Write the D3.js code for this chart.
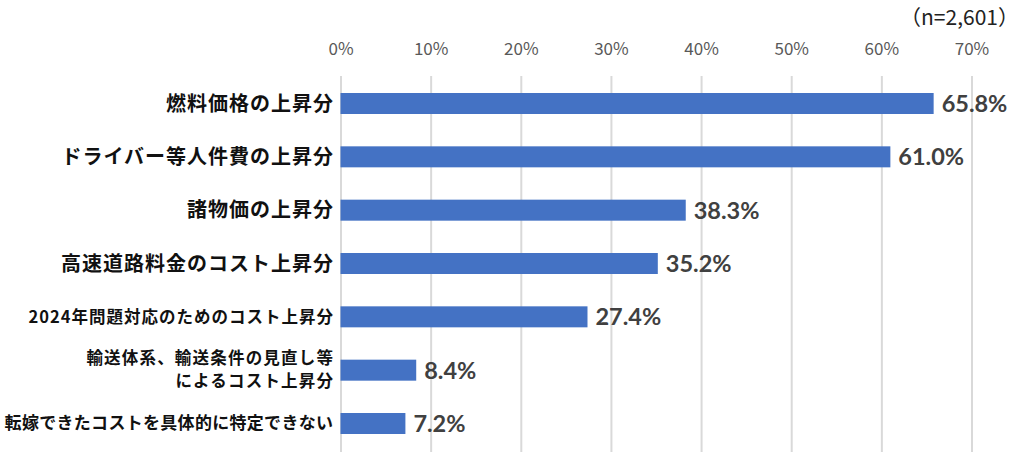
<!DOCTYPE html>
<html>
<head>
<meta charset="utf-8">
<script src="https://cdn.jsdelivr.net/npm/d3@7"></script>
<style>
  body { margin: 0; background: #fff; }
  svg { display: block; }
</style>
</head>
<body>
<div class="graph"></div>
<script>
let width = 1024;
let height = 452;

// données
let categories = [
    "燃料価格の上昇分",
    "ドライバー等人件費の上昇分",
    "諸物価の上昇分",
    "高速道路料金のコスト上昇分",
    "2024年問題対応のためのコスト上昇分",
    "輸送体系、輸送条件の見直し等\nによるコスト上昇分",
    "転嫁できたコストを具体的に特定できない"
];
let values = [65.8, 61.0, 38.3, 35.2, 27.4, 8.4, 7.2];
let ticks = [0, 10, 20, 30, 40, 50, 60, 70];
let sampleNote = "（n=2,601）";

// styles des libellés
let labelSize = [20, 20, 20, 20, 16.5, 16.5, 17];
let labelSpacing = [1, 1, 1, 1, 1, 1.2, 0.3];

let svg = d3.select('.graph')
    .append('svg')
    .attr('width', width)
    .attr('height', height);

let x = d3.scaleLinear()
    .domain([0, 70])
    .range([340.5, 971.5]);

let y = d3.scalePoint()
    .domain(categories)
    .range([103.5, 423.5]);

let barH = 21;
let gridTop = 76;

// axe du haut + grille
let axis = d3.axisTop(x)
    .tickValues(ticks)
    .tickFormat(d => d + "%")
    .tickSize(-(height - gridTop))
    .tickPadding(21);

let gAxis = svg.append('g')
    .attr('transform', 'translate(0,' + gridTop + ')')
    .call(axis);
gAxis.select('.domain').remove();
gAxis.selectAll('.tick line')
    .attr('stroke', '#d9d9d9')
    .attr('stroke-width', 2);
gAxis.selectAll('.tick text')
    .attr('fill', '#595959')
    .style('font-family', '"Noto Sans CJK JP", "Noto Sans", sans-serif')
    .style('font-size', '17px');

// barres
svg.selectAll('rect.bar')
    .data(values)
    .enter()
    .append('rect')
    .attr('class', 'bar')
    .attr('x', x(0))
    .attr('y', (d, i) => y(categories[i]) - barH / 2)
    .attr('width', d => x(d) - x(0))
    .attr('height', barH)
    .attr('fill', '#4472c4');

// valeurs
svg.selectAll('text.val')
    .data(values)
    .enter()
    .append('text')
    .attr('class', 'val')
    .attr('x', d => x(d) + 8)
    .attr('y', (d, i) => y(categories[i]))
    .attr('dy', '0.36em')
    .attr('fill', '#404040')
    .style('font-family', 'Lato, "Open Sans", sans-serif')
    .style('font-weight', 'bold')
    .style('font-size', '23.5px')
    .text(d => d.toFixed(1) + "%");

// libellés des catégories
categories.forEach(function (c, i) {
    let lines = c.split("\n");
    let t = svg.append('text')
        .attr('text-anchor', 'end')
        .attr('fill', '#111')
        .style('font-family', '"Noto Sans CJK JP", sans-serif')
        .style('font-weight', 'bold')
        .style('font-size', labelSize[i] + 'px')
        .style('letter-spacing', labelSpacing[i] + 'px');
    let lh = 23;
    lines.forEach(function (l, j) {
        t.append('tspan')
            .attr('x', 333 + labelSpacing[i])
            .attr('y', y(c) + (j - (lines.length - 1) / 2) * lh)
            .attr('dy', '0.35em')
            .text(l);
    });
});

// effectif
svg.append('text')
    .attr('x', 1019)
    .attr('y', 18)
    .attr('dy', '0.35em')
    .attr('text-anchor', 'end')
    .attr('fill', '#222')
    .style('font-family', '"Noto Sans CJK JP", sans-serif')
    .style('font-size', '21px')
    .text(sampleNote);
</script>
</body>
</html>
